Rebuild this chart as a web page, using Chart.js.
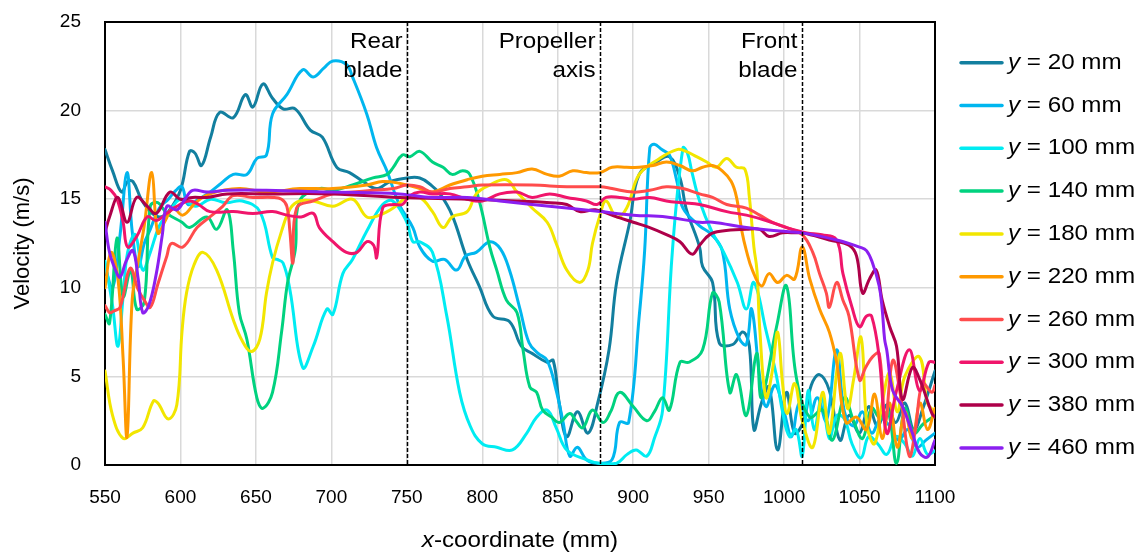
<!DOCTYPE html>
<html>
<head>
<meta charset="utf-8">
<script src="https://cdn.jsdelivr.net/npm/chart.js@4/dist/chart.umd.min.js"></script>
<style>
  html, body { margin: 0; padding: 0; background: #fff; }
  #wrap { width: 1145px; height: 553px; }
</style>
</head>
<body>
<div id="wrap"><canvas id="c" width="1145" height="553"></canvas></div>
<script>
// Velocity profiles along the x-coordinate, one list of [x (mm), velocity (m/s)] per y-position
const y20mm = [[550,17.8],[555,16.6],[561,15.4],[565,16.0],[568.5,16.0],[574,15.0],[580,14.3],[586,14.0],[592,14.3],[600,15.5],[606,17.7],[609.6,17.6],[614,16.9],[620,18.5],[626,19.9],[635,19.6],[643,20.9],[648,20.2],[654.6,21.5],[661,20.7],[668,20.1],[676,20.1],[686,18.9],[694,18.5],[703.6,16.8],[712,16.5],[721,16.0],[730,15.6],[739,16.0],[750,16.2],[758.6,16.2],[766,15.8],[772,15.3],[780,14.1],[790,11.6],[798,10.1],[807,8.4],[818,8.1],[826,6.7],[833,6.3],[843,5.8],[847,5.9],[851,3.5],[856,1.6],[863,3.0],[870,1.8],[876.5,3.5],[884,6.5],[889,10.3],[897.7,13.7],[904,16.4],[915.5,17.1],[924,17.4],[931,16.2],[935,14.5],[944,12.3],[946,11.2],[952.6,10.3],[957,6.9],[966,6.8],[972.6,7.5],[977,6.7],[980,2.0],[985,3.5],[990,4.4],[995.7,0.85],[1001.6,4.1],[1007,1.8],[1013,2.5],[1018,4.5],[1023.5,5.1],[1030,4.2],[1037,1.4],[1043,2.8],[1050,1.8],[1056,3.3],[1062,2.2],[1068,3.4],[1074,2.4],[1080,3.5],[1086,2.0],[1092,3.2],[1100,5.3]];
const y60mm = [[550,11.2],[555,10.0],[560,13.0],[564.6,16.5],[568,13.2],[572,11.2],[576,12.5],[580,13.3],[586,14.5],[592,15.0],[597,15.5],[601,15.7],[605,14.7],[612,15.0],[619.5,15.4],[627,15.9],[635,16.4],[644,16.4],[650.6,17.3],[657,17.5],[661,19.8],[670.5,20.9],[681,22.3],[688,21.9],[695,22.4],[701,22.8],[710,22.6],[714,21.9],[723.5,19.8],[730,17.9],[736.8,16.6],[745,14.7],[754,13.4],[758.6,12.3],[767,11.5],[775,11.6],[783,11.0],[789,11.8],[796,12.0],[805,12.6],[812,12.2],[818,11.0],[825,8.8],[831,6.9],[837,6.3],[843,5.9],[849,4.2],[853.6,2.4],[858,0.5],[863,1.0],[869,0.3],[877,0.1],[886,0.3],[891,2.4],[897,2.4],[904,8.4],[907.6,12.1],[911,17.9],[914,18.1],[919,17.8],[924,17.5],[929,16.0],[933,14.5],[944,13.5],[952,13.0],[959,12.1],[964,8.8],[970.5,7.1],[975,6.8],[978.5,8.8],[983.8,5.0],[988,3.3],[994,4.5],[1000,3.0],[1005,1.6],[1010,3.5],[1016,2.5],[1022,3.8],[1028,2.5],[1034.8,6.5],[1040,3.0],[1046,2.2],[1052,3.0],[1058,1.8],[1064,2.6],[1070,2.2],[1076,1.4],[1082,2.0],[1088,1.0],[1094,1.4],[1100,1.8]];
const y100mm = [[550,11.5],[555,9.0],[558.6,6.7],[562,9.5],[565,12.0],[570,13.0],[575,11.0],[580,12.0],[586,13.5],[592,14.2],[600,15.0],[610,14.6],[620,15.0],[630,14.8],[641,14.9],[652.6,14.3],[661,11.7],[664,11.6],[668,11.4],[672.5,9.9],[681,5.5],[688,6.7],[697,8.8],[701,8.5],[707.6,10.8],[714,11.6],[723.5,13.2],[734,14.7],[740.7,14.9],[750,13.7],[754,12.6],[758.6,12.6],[767,12.0],[776.5,8.4],[785,4.1],[792,2.2],[800,1.2],[809.6,1.0],[820,0.85],[829.5,1.8],[836,2.7],[843,3.1],[849,2.1],[856,0.85],[869,0.3],[877,0.1],[889,0.1],[896,0.6],[902,0.85],[909,0.5],[914,1.5],[919.5,3.1],[926,12.1],[933,17.9],[936,17.6],[939,16.5],[944,14.9],[952,13.2],[960,12.0],[969,10.3],[975,8.8],[980,10.3],[988,7.6],[995,5.0],[999,3.0],[1003.6,1.6],[1008,2.0],[1012,0.5],[1016,4.2],[1020,2.0],[1025,3.8],[1030,1.5],[1035,2.8],[1040,2.6],[1045,1.2],[1051,0.4],[1056,1.6],[1062,1.2],[1068,0.6],[1074,1.6],[1080,1.2],[1085,0.5],[1090,1.5],[1095,0.6],[1100,0.8]];
const y140mm = [[550,8.5],[553,8.0],[558,12.8],[562,9.5],[567,11.0],[571,8.8],[576,9.2],[580,14.6],[585,14.8],[591,14.2],[601,13.7],[606,13.4],[617.5,14.0],[624,13.3],[631,14.4],[635,12.1],[639,8.6],[644,7.1],[650.6,3.8],[654.6,3.2],[661,4.1],[667,7.5],[671,10.3],[676,12.1],[679,14.9],[692,15.6],[701,15.5],[714,15.8],[727.5,16.2],[737,16.4],[741,16.8],[747,17.5],[752,17.4],[758.6,17.7],[767,17.1],[774,16.8],[780,16.4],[787,16.6],[791.7,16.4],[798,14.9],[805,12.3],[809.6,11.0],[816,9.3],[823,8.6],[827,6.5],[831.5,4.4],[836,4.1],[840,3.1],[846,2.7],[851,2.4],[858,2.9],[862,2.5],[866.6,2.1],[873,3.1],[880,2.4],[885,3.0],[891,4.1],[900,3.3],[909,2.5],[914,3.0],[919.5,3.8],[924,3.1],[931,5.8],[937,5.8],[946,6.5],[952.6,9.7],[957,9.2],[964,4.1],[968.5,5.1],[975,2.8],[981.8,6.3],[985,3.8],[995,7.8],[1001.6,10.1],[1008,5.0],[1016.9,2.7],[1025.5,3.1],[1032,1.4],[1040,3.8],[1046,2.5],[1052,1.5],[1058,3.2],[1064,2.6],[1069,3.0],[1074.5,0.1],[1080,3.2],[1086,1.8],[1092,2.3],[1100,2.8]];
const y180mm = [[550,5.3],[555,2.8],[562,1.5],[568.5,1.8],[575,2.1],[582,3.6],[585,3.5],[592,2.6],[597.6,3.4],[601,7.5],[604,9.7],[609,11.3],[615,12.0],[624,11.0],[635,8.2],[641,7.0],[647,6.4],[652.6,7.1],[657,9.7],[661,11.4],[667,13.2],[673,14.5],[679,14.9],[688,14.9],[701,14.6],[714,15.0],[723.5,14.0],[732,14.1],[741,14.5],[750,15.1],[758.6,15.1],[767,14.3],[774,13.4],[780,14.0],[790,14.3],[796,15.3],[805,15.8],[816,16.1],[823,15.4],[833,14.5],[843,13.7],[849,12.5],[856,11.0],[864.6,10.3],[870,11.0],[873,12.5],[878,14.1],[882,14.9],[889,14.0],[895.7,14.5],[904,16.4],[917.5,17.3],[929,17.8],[935,17.7],[942,17.4],[948.7,17.1],[955,16.8],[962,17.3],[968.5,16.8],[974,16.7],[977,15.1],[980,12.3],[982,11.0],[984,7.5],[988,3.8],[992,5.2],[995.7,7.5],[999,4.6],[1002,2.9],[1007,4.6],[1012,2.5],[1019,1.0],[1025.5,4.1],[1030,1.8],[1037,6.3],[1042,3.2],[1046,4.8],[1051,7.2],[1055,2.2],[1060,1.2],[1065,3.5],[1070,5.2],[1075,3.0],[1080,5.0],[1089.7,6.1],[1095,3.5],[1100,3.0]];
const y220mm = [[550,10.0],[554,12.0],[558.6,10.5],[562,6.0],[564.6,1.6],[568,9.3],[572,11.5],[576,13.5],[581,16.5],[585,13.1],[590,13.8],[595,14.5],[601.6,14.1],[610,14.8],[619.5,15.3],[639,15.6],[657,15.4],[679,15.6],[701,15.6],[723.5,15.8],[734,16.0],[745,15.9],[758.6,15.6],[767,15.4],[778.5,15.8],[790,16.1],[800,16.3],[811.6,16.4],[823,16.5],[833,16.7],[843,16.4],[851,16.3],[860,16.6],[869,16.5],[878,16.5],[886,16.8],[895.7,16.8],[904,16.8],[913,16.9],[922,17.1],[931,16.9],[939,16.6],[946,16.8],[952.6,16.9],[959,16.6],[965,16.0],[968.5,15.1],[972,13.2],[975,12.1],[979,11.0],[985,10.1],[990,10.8],[995.7,10.3],[1001.6,10.7],[1007,10.5],[1012,12.3],[1017,10.5],[1023.5,8.8],[1030,7.5],[1034.8,5.8],[1041,2.4],[1048,2.7],[1054.6,2.0],[1060,4.0],[1065,1.5],[1070,3.5],[1075,1.0],[1080,3.0],[1085,1.5],[1090,3.5],[1095,2.0],[1100,3.2]];
const y260mm = [[550,9.0],[553,8.6],[556,8.7],[560,8.9],[566.6,11.1],[572,9.9],[576,9.3],[580,8.9],[585,10.2],[591,11.8],[594,12.5],[601.6,12.3],[611,13.4],[619.5,14.0],[628,14.6],[635,15.2],[648,15.1],[661,15.1],[667,15.0],[670.5,14.6],[672.5,13.2],[674.5,11.4],[677,14.5],[688,14.9],[701,15.3],[714,15.4],[727.5,15.5],[741,15.6],[750,15.8],[758.6,15.7],[767,15.4],[778.5,15.6],[790,15.7],[800,15.8],[833,15.8],[856,15.7],[878,15.7],[886,15.6],[900,15.4],[911,15.5],[922,15.7],[933,15.6],[944,15.3],[952.6,15.1],[962,14.7],[975,14.5],[983.8,14.1],[992,13.7],[1001.6,13.4],[1012,13.0],[1019,12.0],[1023.5,10.8],[1028,9.7],[1030,8.9],[1034.8,10.3],[1039,9.3],[1043,8.4],[1050,4.8],[1054,5.5],[1058.6,6.1],[1063,6.3],[1067,2.5],[1072,5.9],[1077,4.0],[1083,0.5],[1087,2.0],[1091.7,4.6],[1098,4.1],[1100,4.5]];
const y300mm = [[550,15.7],[554,15.5],[558,15.0],[562,13.7],[565,12.3],[571,12.9],[578,14.0],[584,13.8],[591,14.2],[597.6,14.6],[606,14.9],[612,14.7],[619.5,14.3],[635,14.3],[648,14.2],[661,14.3],[670.5,14.1],[680,14.0],[688,14.2],[692,13.4],[701,12.6],[710,12.0],[717,12.0],[723.5,12.6],[728,12.4],[730,11.7],[734,14.5],[741,14.7],[747,14.7],[752,15.2],[758.6,15.4],[767,15.3],[778.5,15.3],[790,15.0],[800,14.9],[811.6,15.3],[823,15.4],[833,15.1],[844.7,15.3],[856,15.1],[869,14.9],[876,14.7],[882,15.1],[891,15.1],[900,15.0],[911,15.1],[922,14.9],[933,14.8],[944,14.7],[962,14.3],[975,14.1],[988,13.8],[1001.6,13.4],[1015,13.1],[1025,13.0],[1034.8,12.7],[1039,10.8],[1045,8.9],[1050,7.8],[1054.6,8.4],[1058,8.4],[1063,6.1],[1068,1.8],[1074.5,4.2],[1083,6.5],[1089.7,4.2],[1096,5.8],[1100,5.8]];
const y380mm = [[550,13.1],[553,14.0],[558.6,15.1],[564.6,13.7],[571,15.1],[578,14.6],[584,14.2],[593,15.4],[600,15.0],[608,15.1],[617.5,15.1],[631,15.3],[657,15.3],[701,15.3],[745,15.1],[790,15.0],[823,14.9],[845,14.8],[856,14.7],[864.6,14.3],[875,14.4],[889,14.0],[900,13.7],[911,13.4],[922,13.0],[931,12.6],[939,11.9],[944,12.4],[950.7,13.0],[959,13.2],[975,13.3],[983.8,13.3],[990,12.9],[999,13.1],[1008,13.1],[1012,13.1],[1030,12.7],[1043,12.4],[1048,11.8],[1052,9.7],[1056.6,10.5],[1061,11.0],[1065,9.3],[1070,7.8],[1074.5,6.7],[1078.5,3.7],[1085,5.5],[1090,4.8],[1098,2.9],[1100,2.7]];
const y460mm = [[550,13.7],[553,12.0],[557,11.0],[560,10.6],[564,11.5],[568.5,12.1],[572,10.5],[575,8.6],[579,9.0],[584,10.8],[588,13.0],[591,14.6],[597.6,14.4],[603,15.0],[608,15.5],[617.5,15.4],[631,15.5],[657,15.5],[701,15.4],[745,15.3],[767,15.1],[790,15.1],[811.6,14.9],[833,14.7],[856,14.5],[878,14.3],[900,14.1],[922,14.0],[944,13.7],[952.6,13.7],[975,13.4],[997,13.2],[1012,13.1],[1034.8,12.7],[1050,12.3],[1054.6,12.1],[1058.6,11.4],[1063,10.1],[1065,8.8],[1066.6,7.1],[1068,6.5],[1072,4.2],[1078.5,3.3],[1085,1.8],[1089.7,0.7],[1095,0.45],[1100,1.4]];

const seriesNames = ['20', '60', '100', '140', '180', '220', '260', '300', '380', '460'];
const seriesData = [y20mm, y60mm, y100mm, y140mm, y180mm, y220mm, y260mm, y300mm, y380mm, y460mm];
const seriesColors = ['#127f9f', '#00b6ef', '#00ecf2', '#00d27f', '#f2e600', '#ff9900', '#ff4c4c', '#f0156b', '#ae0049', '#8b1ff0'];

// Propeller reference positions (mm) and their labels
const markerX = [750, 878, 1012];
const markerLabels = [['Rear', 'blade'], ['Propeller', 'axis'], ['Front', 'blade']];

const xTicks = { min: 550, max: 1100, step: 50 };
const yTicks = { min: 0, max: 25, step: 5 };

const FONT = '"Liberation Sans", Arial, Helvetica, sans-serif';
const STRETCH = 1.1;

// Draw a line of text made of plain/italic runs, stretched horizontally
function drawRuns(ctx, runs, x, y, align, size, sx) {
  ctx.save();
  ctx.translate(x, y);
  ctx.scale(sx, 1);
  let total = 0;
  const widths = runs.map(r => {
    ctx.font = (r.i ? 'italic ' : '') + size + 'px ' + FONT;
    const w = ctx.measureText(r.t).width;
    total += w;
    return w;
  });
  let cx = align === 'right' ? -total : (align === 'center' ? -total / 2 : 0);
  ctx.textAlign = 'left';
  runs.forEach((r, k) => {
    ctx.font = (r.i ? 'italic ' : '') + size + 'px ' + FONT;
    ctx.fillText(r.t, cx, 0);
    cx += widths[k];
  });
  ctx.restore();
}

const framePlugin = {
  id: 'frame',
  beforeDatasetsDraw(chart) {
    const { ctx, chartArea: a } = chart;
    ctx.save();
    ctx.strokeStyle = '#000';
    ctx.lineWidth = 2;
    ctx.strokeRect(a.left, a.top, a.right - a.left, a.bottom - a.top);
    ctx.restore();
  },
  afterDatasetsDraw(chart) {
    const { ctx, chartArea: a, scales } = chart;
    ctx.save();
    ctx.fillStyle = '#000';
    ctx.textBaseline = 'alphabetic';
    markerX.forEach((mx, k) => {
      const px = Math.round(scales.x.getPixelForValue(mx)) + 0.5;
      ctx.strokeStyle = '#000';
      ctx.lineWidth = 1.5;
      ctx.setLineDash([4, 2]);
      ctx.beginPath();
      ctx.moveTo(px, a.top);
      ctx.lineTo(px, a.bottom);
      ctx.stroke();
      ctx.setLineDash([]);
      drawRuns(ctx, [{ t: markerLabels[k][0] }], px - 5, a.top + 26, 'right', 22, STRETCH);
      drawRuns(ctx, [{ t: markerLabels[k][1] }], px - 5, a.top + 55, 'right', 22, STRETCH);
    });
    ctx.restore();
  },
  afterDraw(chart) {
    const { ctx, chartArea: a } = chart;
    ctx.save();
    ctx.fillStyle = '#000';
    ctx.textBaseline = 'middle';
    // axis titles
    drawRuns(ctx, [{ t: 'x', i: true }, { t: '-coordinate (mm)' }], (a.left + a.right) / 2, 541, 'center', 22, STRETCH);
    ctx.save();
    ctx.translate(23, (a.top + a.bottom) / 2);
    ctx.rotate(-Math.PI / 2);
    drawRuns(ctx, [{ t: 'Velocity (m/s)' }], 0, 0, 'center', 22, 1.0);
    ctx.restore();
    // legend
    chart.data.datasets.forEach((ds, k) => {
      const cy = 62.7 + k * 42.8;
      ctx.strokeStyle = ds.borderColor;
      ctx.lineWidth = 3.5;
      ctx.lineCap = 'round';
      ctx.beginPath();
      ctx.moveTo(961, cy);
      ctx.lineTo(1002, cy);
      ctx.stroke();
      drawRuns(ctx, [{ t: 'y', i: true }, { t: ' = ' + seriesNames[k] + ' mm' }], 1008, cy, 'left', 22, STRETCH);
    });
    ctx.restore();
  }
};

const datasets = seriesData.map((pts, i) => ({
  label: 'y = ' + seriesNames[i] + ' mm',
  data: pts.map(([x, v]) => ({ x: x, y: v })),
  borderColor: seriesColors[i],
  backgroundColor: seriesColors[i],
  borderWidth: 3,
  pointRadius: 0,
  tension: 0.4,
  fill: false,
  borderJoinStyle: 'round',
  borderCapStyle: 'round',
  order: -i
}));

const plainTick = v => String(v);

new Chart(document.getElementById('c'), {
  type: 'line',
  data: { datasets: datasets },
  options: {
    responsive: false,
    animation: false,
    devicePixelRatio: 1,
    layout: { padding: { top: 22, right: 210, left: 0, bottom: 0 } },
    plugins: { legend: { display: false }, tooltip: { enabled: false } },
    scales: {
      x: {
        type: 'linear',
        min: xTicks.min, max: xTicks.max,
        ticks: { stepSize: xTicks.step, padding: 21, color: '#000', font: { size: 19, family: FONT }, callback: plainTick },
        grid: { color: '#d9d9d9', lineWidth: 1.5, drawTicks: false },
        border: { display: false },
        afterFit(s) { s.height = 88; s.paddingLeft = 0; s.paddingRight = 0; }
      },
      y: {
        type: 'linear',
        min: yTicks.min, max: yTicks.max,
        ticks: { stepSize: yTicks.step, padding: 24, color: '#000', font: { size: 19, family: FONT }, callback: plainTick },
        grid: { color: '#d9d9d9', lineWidth: 1.5, drawTicks: false },
        border: { display: false },
        afterFit(s) { s.width = 105; s.paddingTop = 0; s.paddingBottom = 0; }
      }
    }
  },
  plugins: [framePlugin]
});
</script>
</body>
</html>
